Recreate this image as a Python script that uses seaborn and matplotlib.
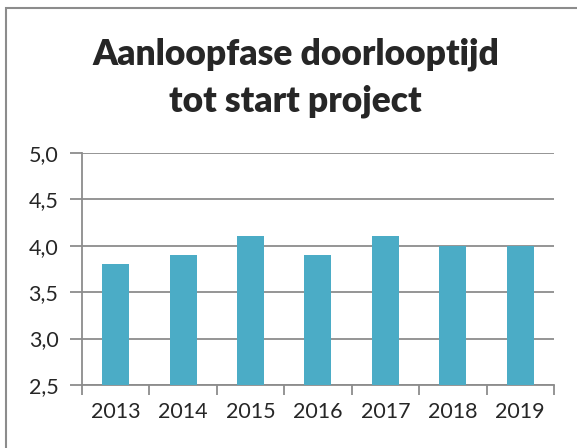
import pandas as pd
import matplotlib.pyplot as plt
import seaborn as sns
from matplotlib.patches import Rectangle
from matplotlib.ticker import FuncFormatter

years = ['2013', '2014', '2015', '2016', '2017', '2018', '2019']
values = [3.8, 3.9, 4.1, 3.9, 4.1, 4.0, 4.0]
y_ticks = [2.5, 3.0, 3.5, 4.0, 4.5, 5.0]

df = pd.DataFrame({'jaar': years, 'doorlooptijd': values})

sns.set_style("white")
plt.rcParams['font.family'] = ['Lato', 'DejaVu Sans']

fig = plt.figure(figsize=(5.77, 4.48), dpi=100)
ax = fig.add_axes([0.1421, 0.1406, 0.818, 0.5185])

sns.barplot(data=df, x='jaar', y='doorlooptijd', color='#4BACC6',
            width=0.4, saturation=1, linewidth=0, ax=ax, zorder=3)

ax.set_ylim(2.5, 5.0)
ax.set_yticks(y_ticks)
ax.yaxis.set_major_formatter(FuncFormatter(lambda v, p: f'{v:.1f}'.replace('.', ',')))
ax.set_xlim(-0.5, len(years) - 0.5)
ax.set_xlabel('')
ax.set_ylabel('')

# gridlines
ax.grid(axis='y', color='#8c8c8c', linewidth=1.3, zorder=0)
ax.set_axisbelow(True)

for s in ['top', 'right']:
    ax.spines[s].set_visible(False)
for s in ['left', 'bottom']:
    ax.spines[s].set_color('#8c8c8c')
    ax.spines[s].set_linewidth(1.3)

ax.tick_params(axis='y', length=9, width=1.3, color='#8c8c8c', labelsize=15.5, pad=8,
               left=True)
ax.tick_params(axis='x', length=0, labelsize=15.5, pad=12)
# category boundary ticks on x axis
ax.set_xticks([i - 0.5 for i in range(len(years) + 1)], minor=True)
ax.tick_params(axis='x', which='minor', length=7, width=1.3, color='#8c8c8c', bottom=True)

fig.text(0.512, 0.827, 'Aanloopfase doorlooptijd\ntot start project',
         ha='center', va='center', fontsize=25.5, fontweight='heavy',
         linespacing=1.5)

# chart border (left and top edges visible, rest runs off the image)
fig.patches.append(Rectangle((0.06, -2), 10, 2 + (448 - 8) / 100,
                             transform=fig.dpi_scale_trans, fill=False,
                             edgecolor='#8c8c8c', linewidth=1.5))

plt.savefig('out.png', dpi=100, facecolor='white')
